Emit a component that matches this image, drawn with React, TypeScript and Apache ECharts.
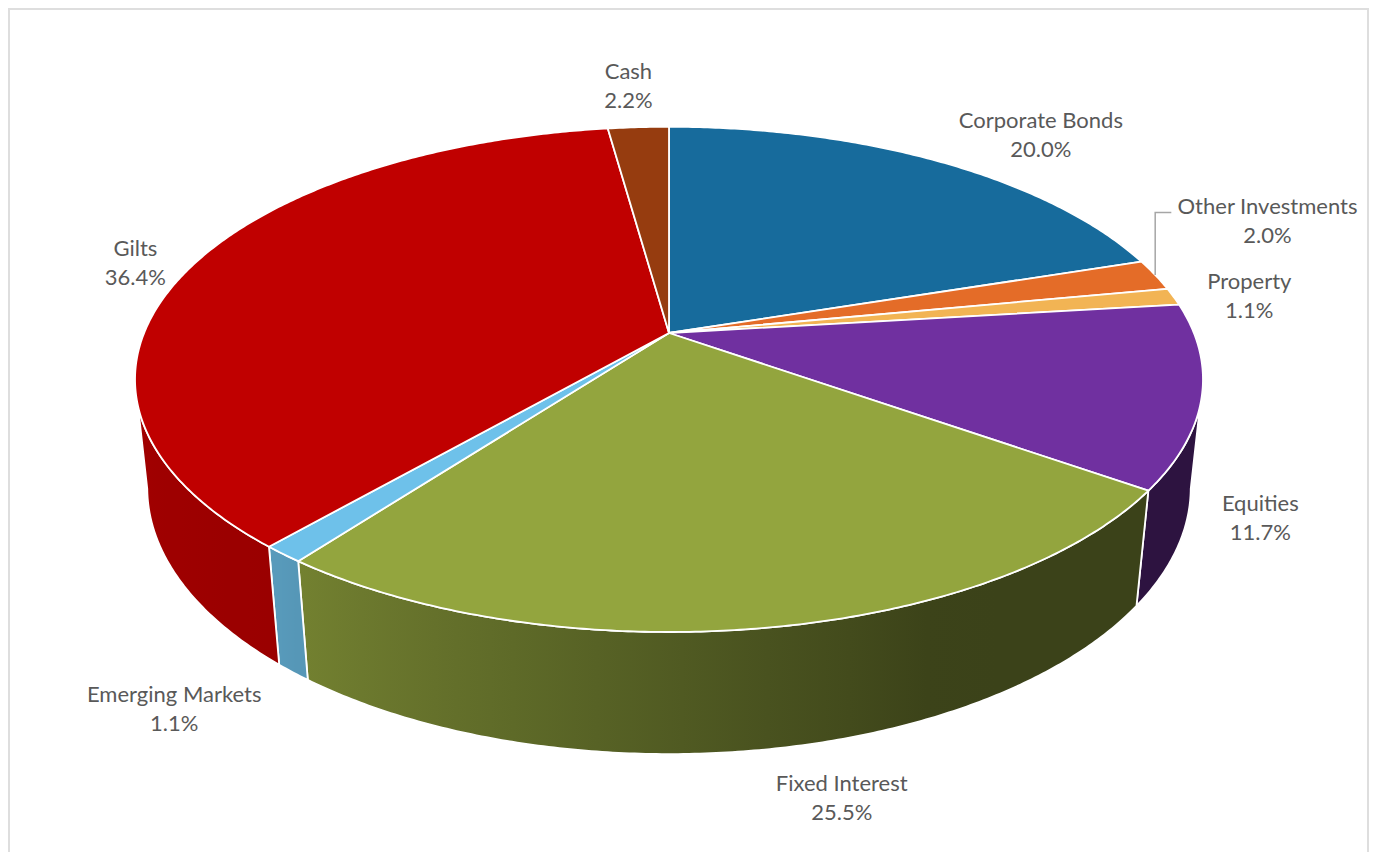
import React, { useEffect, useRef } from "react";
import * as echarts from "echarts";

// ---------- data ----------
const categories = [
  "Corporate Bonds",
  "Other Investments",
  "Property",
  "Equities",
  "Fixed Interest",
  "Emerging Markets",
  "Gilts",
  "Cash",
];
const shares = [20.0, 2.0, 1.1, 11.7, 25.5, 1.1, 36.4, 2.2];

// ---------- styling / layout config ----------
const topColors = ["#176b9c", "#e46c28", "#f2b454", "#7030a0", "#93a53e", "#6ec1ea", "#c00000", "#963c0f"];
// label placement in pie (polar) space: angle shift from slice middle (deg) and radius
const labelShift = [5, -7.7, 0.7, 19.5, -1, -7.5, -0.5, -0.4];
const labelRadius = [1.27, 1.345, 1.15, 1.19, 1.43, 1.405, 1.118, 1.25];
const labelLeader = [false, true, false, false, false, false, false, false];

const FONT_FAMILY = "Lato";
const FONT_SIZE = 22;
const LINE_HEIGHT = 29;
const TEXT_COLOR = "#595959";

// projection (3D pie seen from above with perspective)
const CX = 669;
const CY = 333;
const FOCAL = 2530;
const DIST = 4.82;
const TILT = Math.asin(0.465);
const SA = Math.sin(TILT);
const CA = Math.cos(TILT);
const DEPTH = 0.235;

function project(x: number, y: number, z: number): number[] {
  const up = y * CA - z * SA;
  const toward = z * CA + y * SA;
  const s = FOCAL / (DIST - toward);
  return [CX + x * s, CY - up * s];
}
function rim(thDeg: number, r: number, y: number): number[] {
  const t = (thDeg * Math.PI) / 180;
  return project(r * Math.sin(t), y, -r * Math.cos(t));
}

function silhouette(): [number, number] {
  let thR = 90, maxX = -Infinity;
  for (let t = 60; t <= 140; t += 0.1) {
    const x = rim(t, 1, 0)[0];
    if (x > maxX) { maxX = x; thR = t; }
  }
  let thL = 270, minX = Infinity;
  for (let t = 220; t <= 300; t += 0.1) {
    const x = rim(t, 1, 0)[0];
    if (x < minX) { minX = x; thL = t; }
  }
  return [thR, thL];
}

function hexToRgb(hex: string): number[] {
  const h = hex.replace("#", "");
  return [parseInt(h.slice(0, 2), 16), parseInt(h.slice(2, 4), 16), parseInt(h.slice(4, 6), 16)];
}
function shade(hex: string, f: number): string {
  const [r, g, b] = hexToRgb(hex);
  return `rgb(${Math.round(r * f)},${Math.round(g * f)},${Math.round(b * f)})`;
}
function wallFactor(th: number): number {
  if (th <= 155) return 0.4;
  if (th <= 220) return 0.4 + ((th - 155) / 65) * 0.4;
  return 0.8 + Math.min(1, (th - 220) / 50) * 0.06;
}

function measure(text: string): { width: number; height: number } {
  const t = new echarts.graphic.Text({
    style: { text, fontSize: FONT_SIZE, fontFamily: FONT_FAMILY, lineHeight: LINE_HEIGHT },
  });
  const r = t.getBoundingRect();
  return { width: r.width, height: r.height };
}

export default function App() {
  const ref = useRef<HTMLDivElement>(null);

  useEffect(() => {
    if (!ref.current) return;
    const chart = echarts.init(ref.current, undefined, { renderer: "svg" });
    const total = shares.reduce((a, b) => a + b, 0);
    const starts: number[] = [];
    let acc = 0;
    shares.forEach((v) => {
      starts.push((acc / total) * 360);
      acc += v;
    });
    const [thR, thL] = silhouette();

    const renderItem = (params: any) => {
      const i = params.dataIndex;
      const a = starts[i];
      const b = a + (shares[i] / total) * 360;
      const color = topColors[i];
      const children: any[] = [];

      // side wall
      const wa = Math.max(a, thR);
      const wb = Math.min(b, thL);
      if (wa < wb) {
        const pts: number[][] = [];
        const n = Math.max(2, Math.ceil((wb - wa) / 0.5));
        for (let k = 0; k <= n; k++) pts.push(rim(wa + ((wb - wa) * k) / n, 1, 0));
        for (let k = n; k >= 0; k--) pts.push(rim(wa + ((wb - wa) * k) / n, 1, -DEPTH));
        const x0 = rim(wa, 1, 0)[0];
        const x1 = rim(wb, 1, 0)[0];
        let fill: any = shade(color, wallFactor((wa + wb) / 2));
        if (x0 - x1 > 2) {
          const stops: any[] = [];
          const m = 12;
          for (let k = 0; k <= m; k++) {
            const th = wa + ((wb - wa) * k) / m;
            const x = rim(th, 1, 0)[0];
            const off = Math.min(1, Math.max(0, (x0 - x) / (x0 - x1)));
            stops.push({ offset: off, color: shade(color, wallFactor(th)) });
          }
          stops.sort((p: any, q: any) => p.offset - q.offset);
          fill = new echarts.graphic.LinearGradient(x0, 0, x1, 0, stops, true);
        }
        children.push({
          type: "polygon",
          z2: 1,
          shape: { points: pts },
          style: { fill, stroke: "#ffffff", lineWidth: 1.8, lineJoin: "round" },
        });
      }

      // top face
      const top: number[][] = [project(0, 0, 0)];
      const n = Math.max(2, Math.ceil((b - a) / 0.5));
      for (let k = 0; k <= n; k++) top.push(rim(a + ((b - a) * k) / n, 1, 0));
      children.push({
        type: "polygon",
        z2: 5,
        shape: { points: top },
        style: { fill: color, stroke: "#ffffff", lineWidth: 1.8, lineJoin: "round" },
      });

      // label
      const mid = (a + b) / 2;
      const lp = rim(mid + labelShift[i], labelRadius[i], 0);
      const text = `${categories[i]}\n${shares[i].toFixed(1)}%`;
      children.push({
        type: "text",
        z2: 10,
        x: lp[0],
        y: lp[1],
        style: {
          text,
          fill: TEXT_COLOR,
          fontSize: FONT_SIZE,
          fontFamily: FONT_FAMILY,
          lineHeight: LINE_HEIGHT,
          align: "center",
          verticalAlign: "middle",
        },
      });
      if (labelLeader[i]) {
        const anchor = rim(mid, 1, 0);
        const size = measure(categories[i]);
        const ly = lp[1] - LINE_HEIGHT / 2 + 7;
        const endX = lp[0] - size.width / 2 - 6;
        children.push({
          type: "polyline",
          z2: 9,
          shape: { points: [[anchor[0], anchor[1]], [anchor[0], ly], [endX, ly]] },
          style: { stroke: "#a6a6a6", lineWidth: 1.5, fill: null },
        });
      }
      return { type: "group", children };
    };

    chart.setOption({
      animation: false,
      backgroundColor: "#ffffff",
      graphic: [
        {
          type: "rect",
          shape: { x: 9, y: 9, width: 1359, height: 900 },
          style: { fill: "none", stroke: "#dedede", lineWidth: 2 },
          silent: true,
        },
      ],
      series: [
        {
          type: "custom",
          coordinateSystem: "none",
          renderItem,
          data: shares.map((v, i) => ({ name: categories[i], value: v })),
        },
      ],
    });
    return () => chart.dispose();
  }, []);

  return (
    <div
      ref={ref}
      style={{ position: "fixed", left: 0, top: 0, width: 1374, height: 852, background: "#fff" }}
    />
  );
}
